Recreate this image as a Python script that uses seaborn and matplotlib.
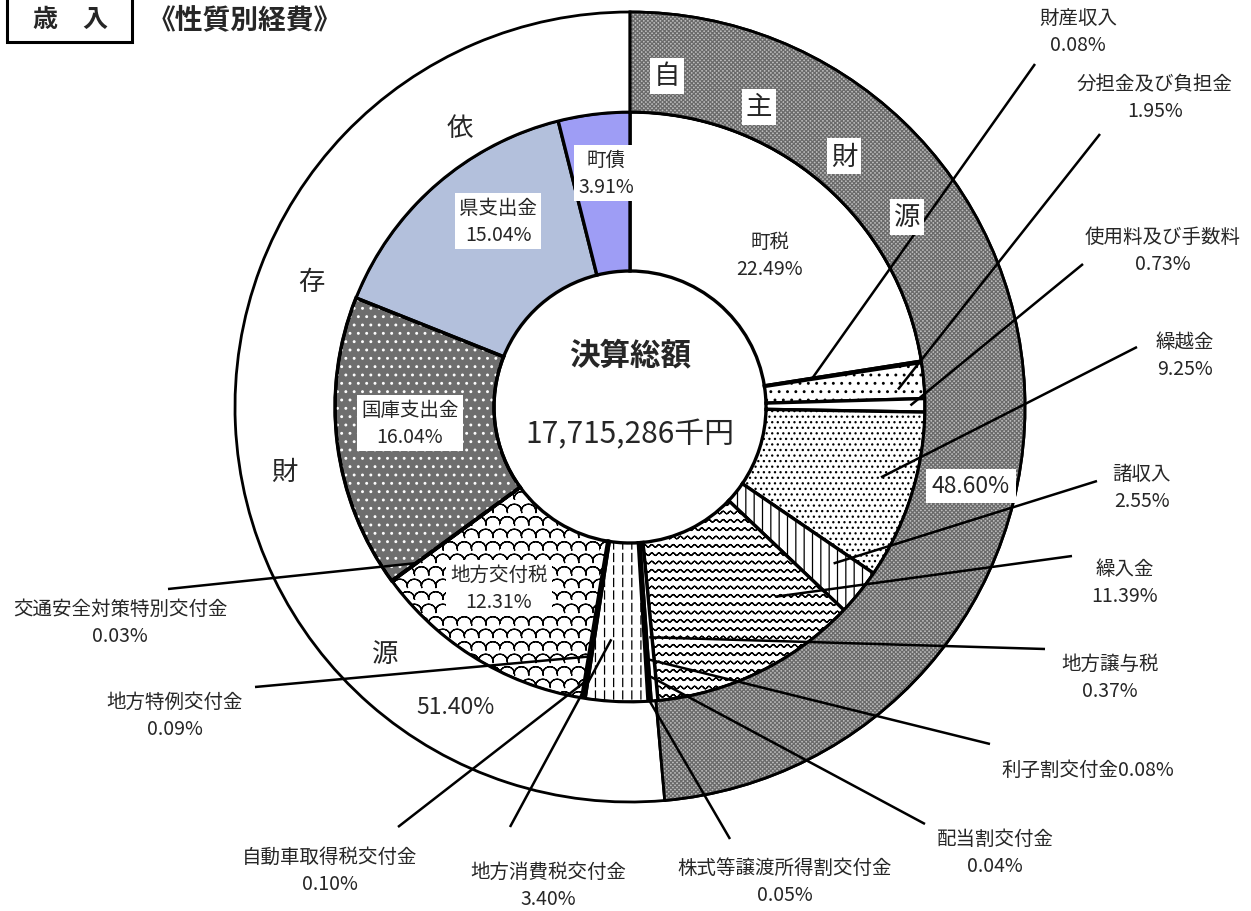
import warnings
import numpy as np
import matplotlib
matplotlib.use("Agg")
import matplotlib.pyplot as plt
import matplotlib.hatch as mhatch
from matplotlib.path import Path
from matplotlib.patches import Wedge, Rectangle
import seaborn as sns

warnings.filterwarnings("ignore")

# ---------------------------------------------------------------- data
items = ["町税", "財産収入", "分担金及び負担金", "使用料及び手数料", "繰越金", "諸収入", "繰入金",
         "地方譲与税", "利子割交付金", "配当割交付金", "株式等譲渡所得割交付金", "地方消費税交付金",
         "自動車取得税交付金", "地方特例交付金", "地方交付税", "交通安全対策特別交付金",
         "国庫支出金", "県支出金", "町債"]
shares = [22.49, 0.08, 1.95, 0.73, 9.25, 2.55, 11.39,
          0.37, 0.08, 0.04, 0.05, 3.40,
          0.10, 0.09, 12.31, 0.03,
          16.04, 15.04, 3.91]
groups = ["自主財源", "依存財源"]
group_shares = [48.60, 51.40]
center_title = "決算総額"
total_amount = "17,715,286千円"
chart_title = "《性質別経費》"
section_title = "歳　入"


# ---------------------------------------------------------------- custom fills
# Hatch paths are filled as well as stroked, so every stroke is traced out and
# back along itself to keep it a pure line.
def _there_and_back(xy):
    return np.vstack([xy, xy[-2::-1]])


class WaveHatch(mhatch.HatchPatternBase):
    rows, waves, pts = 12, 14, 8

    def __init__(self, hatch, density):
        self.on = "w" in hatch
        self.n = self.waves * self.pts + 1
        self.m = 2 * self.n - 1
        self.num_vertices = self.rows * self.m if self.on else 0

    def set_vertices_and_codes(self, vertices, codes):
        x = np.linspace(0, 1, self.n)
        for i in range(self.rows):
            y = (i + 0.5) / self.rows + 0.013 * np.sin(2 * np.pi * self.waves * x)
            s = slice(i * self.m, (i + 1) * self.m)
            vertices[s] = _there_and_back(np.column_stack([x, y]))
            codes[s] = Path.LINETO
            codes[i * self.m] = Path.MOVETO


class ScaleHatch(mhatch.HatchPatternBase):
    cols, rows, seg = 7, 8, 10

    def __init__(self, hatch, density):
        self.on = "c" in hatch
        self.arcs = []
        if self.on:
            r = 0.5 / self.cols
            for i in range(self.rows):
                y = (i + 0.15) / self.rows
                if i % 2 == 0:
                    xs = [(j + 0.5) / self.cols for j in range(self.cols)]
                else:
                    xs = [j / self.cols for j in range(self.cols + 1)]
                for xc in xs:
                    self.arcs.append((xc, y, r))
        self.m = 2 * (self.seg + 1) - 1
        self.num_vertices = len(self.arcs) * self.m

    def set_vertices_and_codes(self, vertices, codes):
        t = np.linspace(np.pi, 0, self.seg + 1)
        k = 0
        for xc, y, r in self.arcs:
            xy = np.column_stack([xc + r * np.cos(t), y + 0.9 * r * np.sin(t)])
            s = slice(k, k + self.m)
            vertices[s] = _there_and_back(xy)
            codes[s] = Path.LINETO
            codes[k] = Path.MOVETO
            k += self.m


class DashHatch(mhatch.HatchPatternBase):
    cols, dashes, length = 11, 8, 0.08

    def __init__(self, hatch, density):
        self.on = "d" in hatch
        self.num_vertices = self.cols * self.dashes * 2 if self.on else 0

    def set_vertices_and_codes(self, vertices, codes):
        k = 0
        for i in range(self.cols):
            x = (i + 0.5) / self.cols
            for j in range(self.dashes):
                y0 = j / self.dashes + 0.01
                vertices[k] = (x, y0)
                vertices[k + 1] = (x, y0 + self.length)
                codes[k] = Path.MOVETO
                codes[k + 1] = Path.LINETO
                k += 2


mhatch._hatch_types.extend([WaveHatch, ScaleHatch, DashHatch])

# ---------------------------------------------------------------- styling
sns.set_theme(style="white")
FONT = ["Noto Sans CJK JP", "DejaVu Sans"]
plt.rcParams["font.family"] = FONT
plt.rcParams["hatch.linewidth"] = 0.9

fill_style = {
    "町税": ("white", None),
    "財産収入": ("white", None),
    "分担金及び負担金": ("white", ".."),
    "使用料及び手数料": ("white", None),
    "繰越金": ("white", "..."),
    "諸収入": ("white", "||"),
    "繰入金": ("white", "w"),
    "地方譲与税": ("white", None),
    "利子割交付金": ("white", None),
    "配当割交付金": ("white", None),
    "株式等譲渡所得割交付金": ("white", None),
    "地方消費税交付金": ("white", "d"),
    "自動車取得税交付金": ("white", None),
    "地方特例交付金": ("white", None),
    "地方交付税": ("white", "c"),
    "交通安全対策特別交付金": ("white", None),
    "国庫支出金": ("#6e6e6e", None),
    "県支出金": ("#b3c0dc", None),
    "町債": ("#9e9df5", None),
}

R_OUT, R_MID, R_IN = 1.0, 295 / 395, 136 / 395
SCALE, CX, CY = 395.0, 630.0, 408.0
LABEL_SIZE = 14


def P(x, y):
    """Layout position given in figure pixels -> data units."""
    return (x - CX) / SCALE, (CY - y) / SCALE


fig = plt.figure(figsize=(12.51, 9.12), dpi=100)
ax = fig.add_axes([0, 0, 1, 1])

inner, _ = ax.pie(shares, radius=R_MID, startangle=90, counterclock=False,
                  wedgeprops=dict(width=R_MID - R_IN, edgecolor="black", linewidth=2.4))
outer, _ = ax.pie(group_shares, radius=R_OUT, startangle=90, counterclock=False,
                  wedgeprops=dict(width=R_OUT - R_MID, edgecolor="black", linewidth=2.0))

wedge_of = dict(zip(items, inner))
for name, w in wedge_of.items():
    fc, h = fill_style[name]
    w.set_facecolor(fc)
    if h:
        w.set_hatch(h)
outer[0].set_facecolor("#bdbdbd")
outer[1].set_facecolor("white")


def texture(w, hatch, color, lw):
    """Lay a coloured texture over a wedge and redraw its outline on top."""
    z = w.get_zorder()
    ax.add_patch(Wedge(w.center, w.r, w.theta1, w.theta2, width=w.width,
                       facecolor="none", edgecolor=color, linewidth=0, hatch=hatch, zorder=z + 0.1))
    ax.add_patch(Wedge(w.center, w.r, w.theta1, w.theta2, width=w.width,
                       facecolor="none", edgecolor="black", linewidth=lw, zorder=z + 0.2))


texture(outer[0], "xxxxxxxx", "#6a6a6a", 2.0)
texture(wedge_of["国庫支出金"], "..", "white", 2.4)

ax.set_xlim(-CX / SCALE, (1251 - CX) / SCALE)
ax.set_ylim((CY - 912) / SCALE, CY / SCALE)
ax.set_aspect("equal")
ax.axis("off")


def anchor(w, frac, r):
    th = np.deg2rad(w.theta2 - frac * (w.theta2 - w.theta1))
    return r * np.cos(th), r * np.sin(th)


def pct(v):
    return f"{v:.2f}%"


share_of = dict(zip(items, shares))

# labels drawn inside the ring (centre in px, boxed?)
inside = [("町税", (770, 256), False), ("町債", (606, 174), True),
          ("県支出金", (498, 222), True), ("国庫支出金", (410, 424), True),
          ("地方交付税", (499, 589), True)]
for name, (x, y), boxed in inside:
    bb = dict(facecolor="white", edgecolor="none", pad=3) if boxed else None
    ax.text(*P(x, y), f"{name}\n{pct(share_of[name])}", ha="center", va="center",
            fontsize=LABEL_SIZE, linespacing=1.35, bbox=bb, zorder=10)

# call-outs: text centre, outer end of leader, position inside the wedge (fraction, radius)
callouts = [
    ("財産収入", (1078, 32), (1035, 65), 0.5, 0.466, True),
    ("分担金及び負担金", (1155, 98), (1100, 135), 0.7, 0.68, True),
    ("使用料及び手数料", (1163, 251), (1083, 265), 0.5, 0.71, True),
    ("繰越金", (1185, 356), (1137, 348), 0.44, 0.66, True),
    ("諸収入", (1142, 488), (1097, 482), 0.35, 0.65, True),
    ("繰入金", (1125, 583), (1072, 557), 0.22, 0.605, True),
    ("地方譲与税", (1110, 678), (1045, 650), 0.5, 0.585, True),
    ("利子割交付金", (1088, 770), (990, 745), 0.5, 0.64, False),
    ("配当割交付金", (995, 853), (925, 825), 0.5, 0.68, True),
    ("株式等譲渡所得割交付金", (785, 882), (730, 840), 0.5, 0.74, True),
    ("地方消費税交付金", (548, 886), (510, 828), 0.66, 0.59, True),
    ("自動車取得税交付金", (330, 871), (398, 828), 0.5, 0.70, True),
    ("地方特例交付金", (175, 716), (255, 688), 0.5, 0.64, True),
    ("交通安全対策特別交付金", (120, 623), (168, 590), 0.5, 0.67, True),
]
for name, (tx, ty), (lx, ly), frac, r, two_lines in callouts:
    sep = "\n" if two_lines else ""
    ax.text(*P(tx, ty), f"{name}{sep}{pct(share_of[name])}", ha="center", va="center",
            fontsize=LABEL_SIZE, linespacing=1.35, zorder=10)
    x0, y0 = P(lx, ly)
    x1, y1 = anchor(wedge_of[name], frac, r)
    ax.plot([x0, x1], [y0, y1], color="black", linewidth=1.8, zorder=8, solid_capstyle="butt")

# group ring: characters of each group name and its share
group_chars = {
    "自主財源": [(667, 77), (759, 108), (844, 157), (907, 218)],
    "依存財源": [(460, 129), (311, 283), (284, 472), (385, 655)],
}
for g in groups:
    boxed = g == groups[0]
    for ch, (x, y) in zip(g, group_chars[g]):
        bb = dict(facecolor="white", edgecolor="none", pad=3) if boxed else None
        ax.text(*P(x, y), ch, ha="center", va="center", fontsize=19, bbox=bb, zorder=10)

ax.text(*P(971, 487), pct(group_shares[0]), ha="center", va="center", fontsize=16.5,
        bbox=dict(facecolor="white", edgecolor="none", pad=4), zorder=10)
ax.text(*P(455, 708), pct(group_shares[1]), ha="center", va="center", fontsize=16.5, zorder=10)

# centre of the ring
ax.text(*P(630, 355), center_title, ha="center", va="center", fontsize=22, fontweight="bold", zorder=10)
ax.text(*P(630, 435), total_amount, ha="center", va="center", fontsize=21.5, zorder=10)

# headings
ax.text(*P(148, 20), chart_title, ha="left", va="center", fontsize=20, fontweight="bold", zorder=10)
bx0, by0 = P(7, 43)
bx1, by1 = P(132, -20)
ax.add_patch(Rectangle((bx0, by0), bx1 - bx0, by1 - by0, facecolor="white",
                       edgecolor="black", linewidth=2.2, zorder=9, clip_on=False))
ax.text(*P(70, 20), section_title, ha="center", va="center", fontsize=18, fontweight="bold", zorder=10)

fig.savefig("out.png", dpi=100)
